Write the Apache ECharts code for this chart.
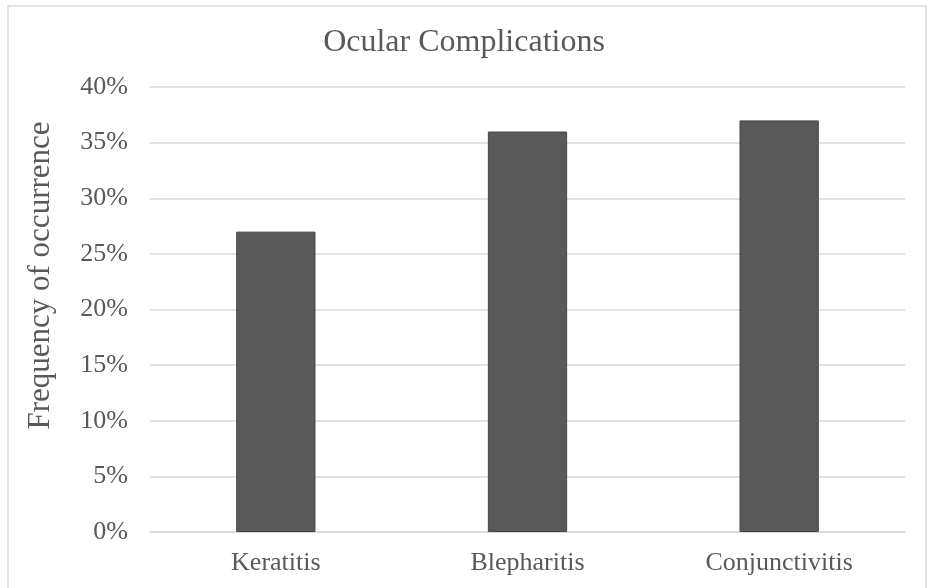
<!DOCTYPE html>
<html>
<head>
<meta charset="utf-8">
<script src="https://cdn.jsdelivr.net/npm/echarts@6/dist/echarts.min.js"></script>
<style>
    html, body { margin: 0; padding: 0; background: #fff; }
    #chart { width: 928px; height: 588px; }
</style>
</head>
<body>
<div id="chart"></div>
<script>
    // values (percent)
    var categories = ['Keratitis', 'Blepharitis', 'Conjunctivitis'];
    var frequency = [27, 36, 37];

    var font = '"Liberation Serif", "DejaVu Serif", serif';
    var textColor = '#595959';

    var chart = echarts.init(document.getElementById('chart'));
    chart.setOption({
        animation: false,
        backgroundColor: '#fff',
        graphic: [{
            type: 'rect',
            shape: { x: 8, y: 6, width: 918, height: 600 },
            style: { fill: 'none', stroke: '#d9d9d9', lineWidth: 1.5 },
            silent: true
        }],
        title: {
            text: 'Ocular Complications',
            left: 'center',
            top: 22,
            textStyle: { fontFamily: font, fontSize: 32, fontWeight: 'normal', color: textColor }
        },
        grid: { left: 150, right: 23, top: 87, bottom: 56 },
        xAxis: {
            type: 'category',
            data: categories,
            axisLine: { lineStyle: { color: '#d9d9d9', width: 1.5 } },
            axisTick: { show: false },
            axisLabel: { fontFamily: font, fontSize: 26, color: textColor, margin: 18 }
        },
        yAxis: {
            type: 'value',
            min: 0,
            max: 40,
            interval: 5,
            name: 'Frequency of occurrence',
            nameLocation: 'middle',
            nameGap: 94,
            // pushes the name up a bit, like the original
            nameTextStyle: { fontFamily: font, fontSize: 31, color: textColor, padding: [0, 0, 0, 68] },
            axisLine: { show: false },
            axisTick: { show: false },
            axisLabel: { fontFamily: font, fontSize: 26, color: textColor, margin: 22, formatter: '{value}%' },
            splitLine: { lineStyle: { color: '#d9d9d9', width: 1.5 } }
        },
        series: [{
            type: 'bar',
            data: frequency,
            barWidth: '31.5%',
            itemStyle: { color: '#595959', borderColor: '#454545', borderWidth: 1 }
        }]
    });
</script>
</body>
</html>
